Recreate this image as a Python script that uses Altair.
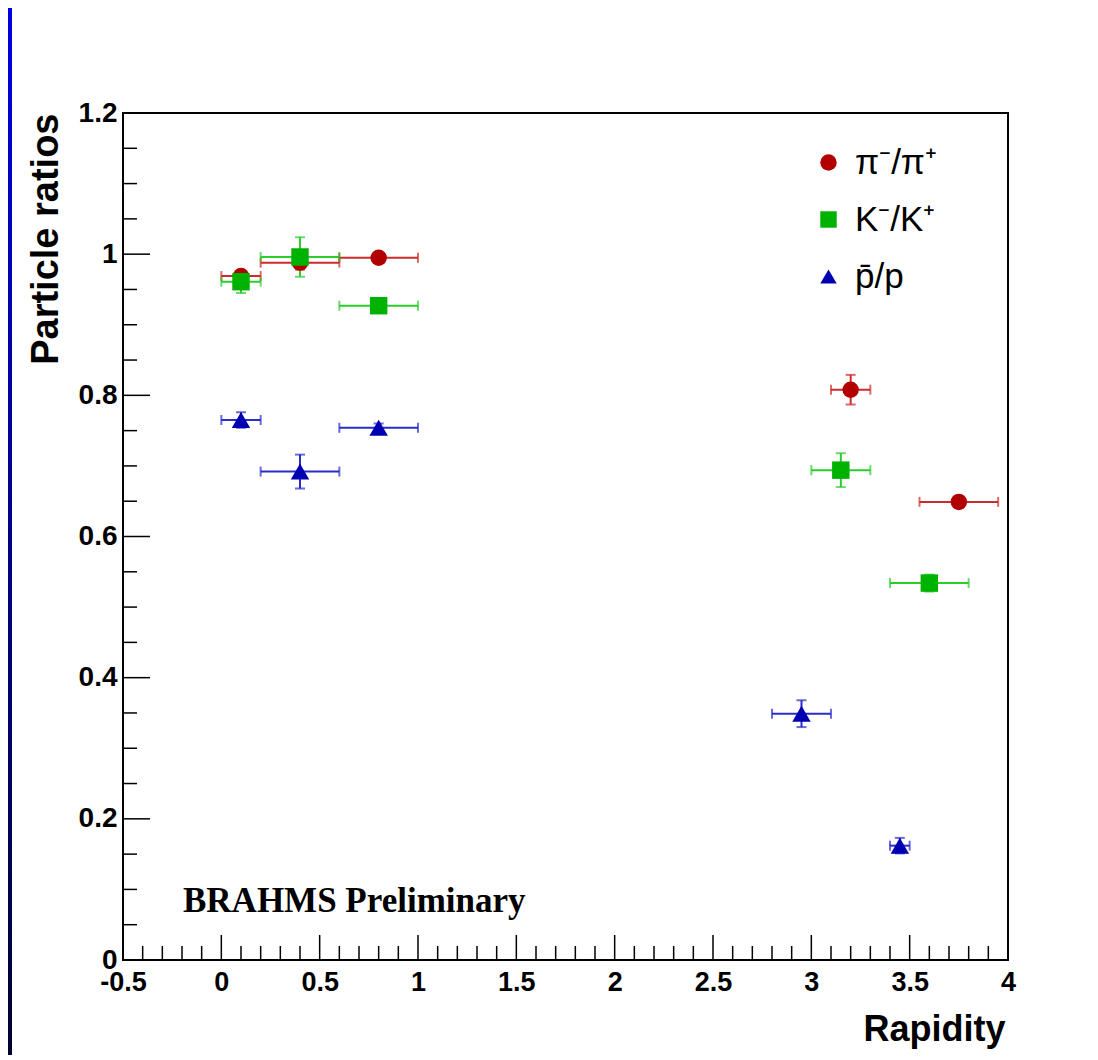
import altair as alt
import pandas as pd

# ---------------- data ----------------
series_names = ["π⁻/π⁺", "K⁻/K⁺", "p̄/p"]
error_keys = ["pi_err", "k_err", "p_err"]
size_keys = ["pi_size", "k_size", "p_size"]

pi_x = [0.1, 0.4, 0.8, 3.2, 3.75]
pi_y = [0.969, 0.988, 0.995, 0.808, 0.649]
pi_xerr = [0.1, 0.2, 0.2, 0.1, 0.2]
pi_yerr = [0.008, 0.010, 0.007, 0.021, 0.008]

k_x = [0.1, 0.4, 0.8, 3.15, 3.6]
k_y = [0.961, 0.996, 0.927, 0.694, 0.534]
k_xerr = [0.1, 0.2, 0.2, 0.15, 0.2]
k_yerr = [0.016, 0.028, 0.006, 0.024, 0.012]

p_x = [0.1, 0.4, 0.8, 2.95, 3.45]
p_y = [0.765, 0.692, 0.754, 0.349, 0.162]
p_xerr = [0.1, 0.2, 0.2, 0.15, 0.05]
p_yerr = [0.011, 0.024, 0.006, 0.019, 0.011]

x_major = [-0.5, 0, 0.5, 1, 1.5, 2, 2.5, 3, 3.5, 4]
x_minor = [-0.4, -0.3, -0.2, -0.1, 0.1, 0.2, 0.3, 0.4, 0.6, 0.7, 0.8, 0.9,
           1.1, 1.2, 1.3, 1.4, 1.6, 1.7, 1.8, 1.9, 2.1, 2.2, 2.3, 2.4,
           2.6, 2.7, 2.8, 2.9, 3.1, 3.2, 3.3, 3.4, 3.6, 3.7, 3.8, 3.9]
y_major = [0, 0.2, 0.4, 0.6, 0.8, 1, 1.2]
y_minor = [0.05, 0.1, 0.15, 0.25, 0.3, 0.35, 0.45, 0.5, 0.55, 0.65, 0.7, 0.75,
           0.85, 0.9, 0.95, 1.05, 1.1, 1.15]

annotation = ["BRAHMS Preliminary"]

marker_colors = ["#b20000", "#00b200", "#0000b2"]
error_colors = ["#cc2b2b", "#2bcc2b", "#2b2bcc"]
marker_shapes = ["circle", "square", "triangle-up"]
marker_sizes = [270, 340, 250]

# ---------------- tables ----------------
rows = []
for i, (xs, ys, xe, ye) in enumerate([
    (pi_x, pi_y, pi_xerr, pi_yerr),
    (k_x, k_y, k_xerr, k_yerr),
    (p_x, p_y, p_xerr, p_yerr),
]):
    for x, y, dx, dy in zip(xs, ys, xe, ye):
        rows.append(dict(series=series_names[i], ekey=error_keys[i], skey=size_keys[i],
                         x=x, y=y, xlo=x - dx, xhi=x + dx, ylo=y - dy, yhi=y + dy))
df = pd.DataFrame(rows)

W, H = 885, 847

xscale = alt.Scale(domain=[-0.5, 4], nice=False, zero=False)
yscale = alt.Scale(domain=[0, 1.2], nice=False, zero=False)

x_axis = alt.Axis(
    values=x_major, labelExpr="toString(datum.value)", tickSize=0, domain=False,
    grid=False, labelFont="Liberation Sans",
    labelFontSize=27, labelFontWeight="bold", labelColor="black", labelPadding=9,
    labelOverlap=False, labelFlush=False, labelBound=False,
    title="Rapidity", titleFont="Liberation Sans", titleFontSize=36,
    titleFontWeight="bold", titleColor="black", titleX=882, titleY=80,
    titleAlign="right", titleBaseline="alphabetic", titleAnchor="end",
)
y_axis = alt.Axis(
    values=y_major, labelExpr="toString(datum.value)", tickSize=0, domain=False,
    grid=False, labelFont="Liberation Sans", labelFontSize=28,
    labelFontWeight="bold", labelColor="black", labelPadding=6,
    labelOverlap=False, labelFlush=False, labelBound=False,
    title="Particle ratios", titleFont="Liberation Sans", titleFontSize=38,
    titleFontWeight="bold", titleColor="black", titleX=-66, titleY=0,
    titleAngle=270, titleAlign="right", titleBaseline="alphabetic",
)

legend_opts = dict(
    title=None, orient="none", legendX=688, legendY=32, padding=0,
    labelFont="Liberation Sans", labelFontSize=35, labelColor="black",
    labelOffset=9, rowPadding=21, symbolSize=270, symbolStrokeWidth=0,
    labelLimit=300,
)

base = alt.Chart(df)

stroke_enc = alt.Stroke("ekey:N", scale=alt.Scale(domain=error_keys, range=error_colors), legend=None)
fill_enc = alt.Fill("ekey:N", scale=alt.Scale(domain=error_keys, range=error_colors), legend=None)

xerr = base.mark_rule(strokeWidth=2).encode(
    x=alt.X("xlo:Q", scale=xscale, axis=x_axis), x2="xhi:Q",
    y=alt.Y("y:Q", scale=yscale, axis=y_axis), stroke=stroke_enc)
yerr = base.mark_rule(strokeWidth=2).encode(
    x="x:Q", y="ylo:Q", y2="yhi:Q", stroke=stroke_enc)
cap_xlo = base.mark_tick(orient="vertical", size=10, thickness=2).encode(
    x="xlo:Q", y="y:Q", fill=fill_enc)
cap_xhi = base.mark_tick(orient="vertical", size=10, thickness=2).encode(
    x="xhi:Q", y="y:Q", fill=fill_enc)
cap_ylo = base.mark_tick(orient="horizontal", size=10, thickness=2).encode(
    x="x:Q", y="ylo:Q", fill=fill_enc)
cap_yhi = base.mark_tick(orient="horizontal", size=10, thickness=2).encode(
    x="x:Q", y="yhi:Q", fill=fill_enc)

points = base.mark_point(filled=True, opacity=1, strokeWidth=0).encode(
    x="x:Q", y="y:Q",
    color=alt.Color("series:N", scale=alt.Scale(domain=series_names, range=marker_colors),
                    legend=alt.Legend(**legend_opts)),
    shape=alt.Shape("series:N", scale=alt.Scale(domain=series_names, range=marker_shapes),
                    legend=alt.Legend(**legend_opts)),
    size=alt.Size("skey:N", scale=alt.Scale(domain=size_keys, range=marker_sizes),
                  legend=None),
)

# axis ticks drawn inward (ROOT style)
xmaj = alt.Chart(pd.DataFrame({"v": x_major})).mark_rule(color="black", strokeWidth=1.5).encode(
    x="v:Q", y=alt.value(H), y2=alt.value(H - 25))
xmin = alt.Chart(pd.DataFrame({"v": x_minor})).mark_rule(color="black", strokeWidth=1.5).encode(
    x="v:Q", y=alt.value(H), y2=alt.value(H - 14))
ymaj = alt.Chart(pd.DataFrame({"v": y_major})).mark_rule(color="black", strokeWidth=1.5).encode(
    y="v:Q", x=alt.value(0), x2=alt.value(27))
ymin = alt.Chart(pd.DataFrame({"v": y_minor})).mark_rule(color="black", strokeWidth=1.5).encode(
    y="v:Q", x=alt.value(0), x2=alt.value(14))

label = alt.Chart(pd.DataFrame({"t": annotation})).mark_text(
    align="left", baseline="alphabetic", font="Liberation Serif", fontSize=35,
    fontWeight="bold", color="black").encode(
    x=alt.value(60), y=alt.value(799), text="t:N")

band = alt.Chart(pd.DataFrame({"t": ["frame"]})).mark_rect(
    color=alt.LinearGradient(
        gradient="linear", x1=0, x2=0, y1=0, y2=1,
        stops=[alt.GradientStop(color="#0000e0", offset=0),
               alt.GradientStop(color="#000030", offset=1)])).encode(
    x=alt.value(-115), x2=alt.value(-111), y=alt.value(-105), y2=alt.value(H + 95))

chart = alt.layer(
    band, xmin, xmaj, ymin, ymaj, xerr, yerr, cap_xlo, cap_xhi, cap_ylo, cap_yhi,
    points, label,
).properties(
    width=W, height=H,
    autosize=alt.AutoSizeParams(type="none"),
    padding={"left": 115, "top": 105, "right": 82, "bottom": 95},
    background="white",
).configure_view(
    stroke="black", strokeWidth=2,
)

chart.save("out.html", embed_options={"renderer": "svg", "actions": False})
